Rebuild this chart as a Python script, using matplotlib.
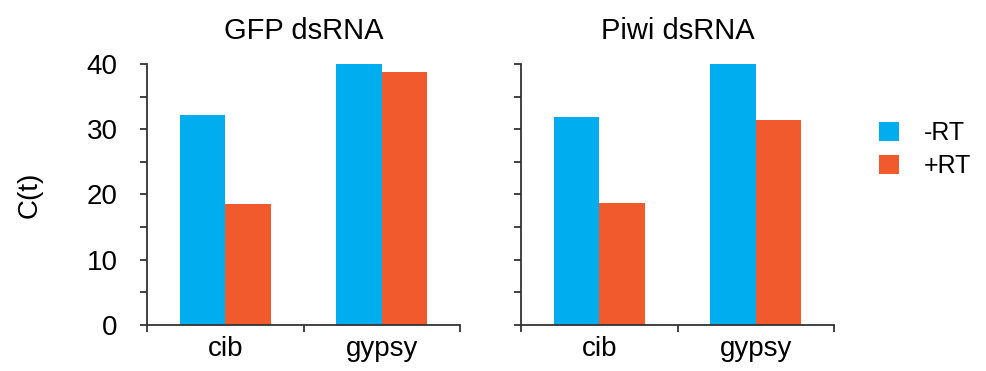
import numpy as np
import matplotlib.pyplot as plt

plt.rcParams['font.family'] = ['Liberation Sans', 'DejaVu Sans']

# Ct values per knockdown condition
genes = ["cib", "gypsy"]
panels = ["GFP dsRNA", "Piwi dsRNA"]
minus_rt = [[32.2, 40.0], [31.9, 40.0]]
plus_rt = [[18.5, 38.8], [18.7, 31.4]]

blue = "#00AEEF"
orange = "#F15A2C"
axis_col = "#333333"

fig = plt.figure(figsize=(9.86, 3.71), dpi=100)
lefts = [147 / 986, 521 / 986]
width = 313 / 986
bottom = 46 / 371
height = 261 / 371

bw = 0.29
x = np.arange(len(genes))
for i, title in enumerate(panels):
    ax = fig.add_axes([lefts[i], bottom, width, height])
    b1 = ax.bar(x - bw / 2, minus_rt[i], bw, color=blue, label="-RT")
    b2 = ax.bar(x + bw / 2, plus_rt[i], bw, color=orange, label="+RT")
    ax.set_xlim(-0.5, 1.5)
    ax.set_ylim(0, 40)
    for s in ["top", "right"]:
        ax.spines[s].set_visible(False)
    for s in ["left", "bottom"]:
        ax.spines[s].set_color(axis_col)
        ax.spines[s].set_linewidth(1.3)
    # boundary ticks on x, labels centred under each gene
    ax.set_xticks([-0.5, 0.5, 1.5])
    ax.set_xticklabels([])
    ax.set_xticks(x, minor=True)
    ax.set_xticklabels(genes, minor=True, fontsize=20)
    ax.tick_params(axis="x", which="minor", length=0, pad=8)
    ax.tick_params(axis="x", which="major", length=5, width=1.3, color=axis_col)
    ax.set_yticks([0, 10, 20, 30, 40])
    ax.set_yticks([5, 15, 25, 35], minor=True)
    ax.tick_params(axis="y", which="both", length=5, width=1.3, color=axis_col)
    if i == 0:
        ax.set_yticklabels(["0", "10", "20", "30", "40"], fontsize=20)
        ax.tick_params(axis="y", pad=16)
        ax.set_ylabel("C(t)", fontsize=20, labelpad=32)
    else:
        ax.set_yticklabels([])
    ax.set_title(title, fontsize=21, pad=18)

fig.legend(handles=[b1, b2], loc="upper left", bbox_to_anchor=(879 / 986, 1 - 121 / 371),
           frameon=False, fontsize=18, borderpad=0, borderaxespad=0,
           handlelength=0.8, handleheight=0.8,
           handletextpad=1.0, labelspacing=0.35)

fig.savefig("out.png", dpi=100)
